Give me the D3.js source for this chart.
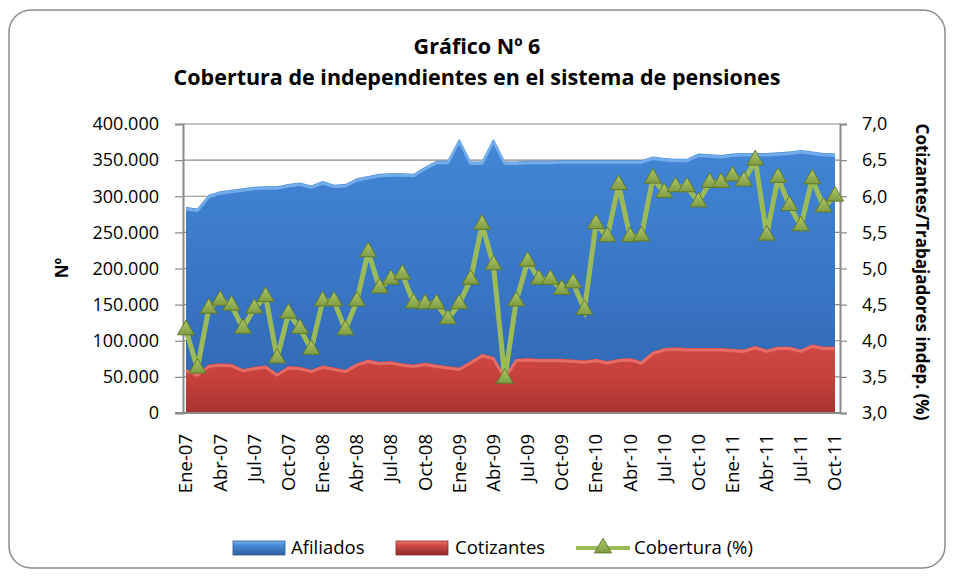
<!DOCTYPE html>
<html>
<head>
<meta charset="utf-8">
<script src="https://cdn.jsdelivr.net/npm/d3@7"></script>
<style>
  html, body { margin: 0; padding: 0; background: #fff; }
  svg { display: block; font-family: "Open Sans", "DejaVu Sans", sans-serif; }
</style>
</head>
<body>
<div id="chart"></div>
<script>
// monthly data, Ene-07 .. Oct-11
const monthNames = ['Ene','Feb','Mar','Abr','May','Jun','Jul','Ago','Sep','Oct','Nov','Dic'];
const years = ['07','08','09','10','11'];
const nMonths = 58;

const afiliados = [
  285000, 283000, 302000, 307000, 309000, 311000, 313000, 314000, 314000, 317000, 319000, 315000,
  321000, 316000, 317000, 325000, 328000, 331000, 332000, 332000, 331000, 341000, 349000, 349000,
  379000, 348000, 348000, 379000, 348000, 348000, 349000, 349000, 349000, 350000, 350000, 350000,
  350000, 350000, 350000, 350000, 350000, 355000, 353000, 352000, 352000, 359000, 358000, 357000,
  359000, 360000, 360000, 360000, 361000, 362000, 364000, 362000, 360000, 359000
];
const cotizantes = [
  61000, 55000, 67000, 69000, 68000, 61000, 64000, 66000, 55000, 65000, 64000, 60000,
  66000, 63000, 60000, 69000, 74000, 71000, 72000, 69000, 67000, 70000, 67000, 65000,
  63000, 72000, 82000, 78000, 51000, 75000, 76000, 75000, 75000, 75000, 74000, 73000,
  75000, 72000, 75000, 76000, 72000, 85000, 90000, 91000, 90000, 90000, 90000, 90000,
  89000, 88000, 93000, 88000, 92000, 92000, 88000, 95000, 92000, 92000
];
const cobertura = [
  4.15, 3.62, 4.45, 4.56, 4.49, 4.17, 4.45, 4.61, 3.76, 4.38, 4.17, 3.88,
  4.55, 4.55, 4.15, 4.55, 5.23, 4.73, 4.85, 4.92, 4.52, 4.51, 4.51, 4.30,
  4.51, 4.85, 5.61, 5.05, 3.48, 4.55, 5.10, 4.85, 4.85, 4.71, 4.80, 4.43,
  5.62, 5.44, 6.16, 5.44, 5.45, 6.25, 6.05, 6.13, 6.13, 5.92, 6.19, 6.19,
  6.28, 6.21, 6.50, 5.46, 6.26, 5.87, 5.59, 6.24, 5.85, 6.00
];
const leftTicks = [0, 50000, 100000, 150000, 200000, 250000, 300000, 350000, 400000];
const rightTicks = [3.0, 3.5, 4.0, 4.5, 5.0, 5.5, 6.0, 6.5, 7.0];

const months = d3.range(nMonths).map(i => monthNames[i % 12] + '-' + years[Math.floor(i / 12)]);
const quarterLabels = months.filter((m, i) => i % 3 === 0);

const W = 954, H = 577;
const plot = {left: 183, right: 840, top: 124, bottom: 413};

const es = d3.formatLocale({decimal: ',', thousands: '.', grouping: [3], currency: ['', '']});
const fmtLeft = es.format(',.0f');
const fmtRight = es.format('.1f');

const svg = d3.select('#chart').append('svg')
  .attr('width', W).attr('height', H);

const defs = svg.append('defs');
function vgrad(id, stops, y1, y2) {
  const g = defs.append('linearGradient').attr('id', id)
    .attr('gradientUnits', 'userSpaceOnUse')
    .attr('x1', 0).attr('x2', 0).attr('y1', y1).attr('y2', y2);
  stops.forEach(s => g.append('stop').attr('offset', s[0]).attr('stop-color', s[1]));
}
vgrad('blueFill', [[0, '#4388d8'], [0.5, '#3a78c7'], [1, '#2f65b0']], plot.top, plot.bottom);
vgrad('redFill', [[0, '#d64c47'], [0.6, '#c63f3a'], [1, '#a83330']], 330, plot.bottom);
vgrad('triFill', [[0, '#a8c464'], [1, '#76923c']], -8, 8);
vgrad('legBlue', [[0, '#7db4ee'], [0.3, '#4a8bd8'], [1, '#2c5f9e']], 541, 555);
vgrad('legRed', [[0, '#f07a76'], [0.3, '#d24a45'], [1, '#8e2b28']], 541, 555);

// outer frame
svg.append('rect')
  .attr('x', 9).attr('y', 10).attr('width', 936).attr('height', 558)
  .attr('rx', 22).attr('ry', 22)
  .attr('fill', '#fff').attr('stroke', '#8c8c8c').attr('stroke-width', 1.5);

// title
svg.append('text')
  .attr('x', 477).attr('y', 54).attr('text-anchor', 'middle')
  .attr('font-size', 21.5).attr('font-weight', 'bold').attr('fill', '#000')
  .text('Gráfico Nº 6');
svg.append('text')
  .attr('x', 477).attr('y', 85).attr('text-anchor', 'middle')
  .attr('font-size', 21.5).attr('font-weight', 'bold').attr('fill', '#000')
  .text('Cobertura de independientes en el sistema de pensiones');

const x = d3.scalePoint().domain(months).range([186, 835]);
const yL = d3.scaleLinear().domain([0, 400000]).range([plot.bottom, plot.top]);
const yR = d3.scaleLinear().domain([3, 7]).range([plot.bottom, plot.top]);

// gridlines
svg.append('g').selectAll('line')
  .data(leftTicks.filter(t => t > 0))
  .join('line')
  .attr('x1', plot.left).attr('x2', plot.right)
  .attr('y1', d => yL(d)).attr('y2', d => yL(d))
  .attr('stroke', '#8a8a8a').attr('stroke-width', 1.2);

// areas
const areaAf = d3.area()
  .x((d, i) => x(months[i]))
  .y0(plot.bottom)
  .y1(d => yL(d));
const lineAf = d3.line().x((d, i) => x(months[i])).y(d => yL(d));

svg.append('path').datum(afiliados)
  .attr('d', areaAf).attr('fill', 'url(#blueFill)');
svg.append('path').datum(afiliados)
  .attr('d', lineAf).attr('fill', 'none')
  .attr('stroke', '#78b0ec').attr('stroke-width', 3).attr('stroke-linejoin', 'round')
  .attr('transform', 'translate(0,2)').attr('opacity', 0.9);

svg.append('path').datum(cotizantes)
  .attr('d', areaAf).attr('fill', 'url(#redFill)');
svg.append('path').datum(cotizantes)
  .attr('d', lineAf).attr('fill', 'none')
  .attr('stroke', '#e8706b').attr('stroke-width', 3).attr('stroke-linejoin', 'round')
  .attr('transform', 'translate(0,2)').attr('opacity', 0.9);

// axes
const axL = svg.append('g').attr('transform', `translate(${plot.left},0)`)
  .call(d3.axisLeft(yL).tickValues(leftTicks).tickSize(8).tickPadding(16).tickFormat(fmtLeft));
const axR = svg.append('g').attr('transform', `translate(${plot.right},0)`)
  .call(d3.axisRight(yR).tickValues(rightTicks).tickSize(7).tickPadding(15).tickFormat(fmtRight));
[axL, axR].forEach(a => {
  a.select('.domain').attr('stroke', '#8a8a8a').attr('stroke-width', 2);
  a.selectAll('.tick line').attr('stroke', '#8a8a8a').attr('stroke-width', 1.2);
  a.selectAll('.tick text').attr('font-size', 18).attr('fill', '#000')
    .attr('font-family', '"Open Sans", sans-serif');
});

svg.append('line')
  .attr('x1', 175).attr('x2', plot.right)
  .attr('y1', plot.bottom).attr('y2', plot.bottom)
  .attr('stroke', '#8a8a8a').attr('stroke-width', 2);

// category labels every quarter
svg.append('g').selectAll('text')
  .data(quarterLabels)
  .join('text')
  .attr('transform', d => `translate(${x(d)},434) rotate(-90)`)
  .attr('text-anchor', 'end').attr('dy', '0.35em')
  .attr('font-size', 18.5).attr('fill', '#000')
  .text(d => d);

// axis titles
svg.append('text')
  .attr('transform', 'translate(62,268) rotate(-90)')
  .attr('text-anchor', 'middle').attr('dy', '0.35em')
  .attr('font-size', 17).attr('font-weight', 'bold')
  .text('Nº');
svg.append('text')
  .attr('transform', 'translate(922,272) rotate(90)')
  .attr('text-anchor', 'middle').attr('dy', '0.35em')
  .attr('font-size', 17).attr('font-weight', 'bold')
  .text('Cotizantes/Trabajadores indep. (%)');

// cobertura line
svg.append('path').datum(cobertura)
  .attr('d', d3.line().x((d, i) => x(months[i])).y(d => yR(d)))
  .attr('fill', 'none').attr('stroke', '#9bbb59').attr('stroke-width', 5)
  .attr('stroke-linejoin', 'miter');

const tri = d3.symbol(d3.symbolTriangle, 125);
svg.append('g').selectAll('path')
  .data(cobertura)
  .join('path')
  .attr('transform', (d, i) => `translate(${x(months[i])},${yR(d)})`)
  .attr('d', tri)
  .attr('fill', 'url(#triFill)').attr('stroke', '#5f7a2c').attr('stroke-width', 1);

// legend
const leg = svg.append('g');
leg.append('rect').attr('x', 233).attr('y', 541).attr('width', 52).attr('height', 14)
  .attr('fill', 'url(#legBlue)').attr('stroke', '#2c5a93').attr('stroke-width', 0.8);
leg.append('text').attr('x', 291).attr('y', 548).attr('dy', '0.35em')
  .attr('font-size', 18.5).text('Afiliados');
leg.append('rect').attr('x', 396).attr('y', 541).attr('width', 52).attr('height', 14)
  .attr('fill', 'url(#legRed)').attr('stroke', '#8a2a27').attr('stroke-width', 0.8);
leg.append('text').attr('x', 455).attr('y', 548).attr('dy', '0.35em')
  .attr('font-size', 18.5).text('Cotizantes');
leg.append('line').attr('x1', 576).attr('x2', 630).attr('y1', 548).attr('y2', 548)
  .attr('stroke', '#9bbb59').attr('stroke-width', 4);
leg.append('path').attr('transform', 'translate(603,548)').attr('d', tri)
  .attr('fill', 'url(#triFill)').attr('stroke', '#5f7a2c').attr('stroke-width', 1);
leg.append('text').attr('x', 634).attr('y', 548).attr('dy', '0.35em')
  .attr('font-size', 18.5).text('Cobertura (%)');
</script>
</body>
</html>
